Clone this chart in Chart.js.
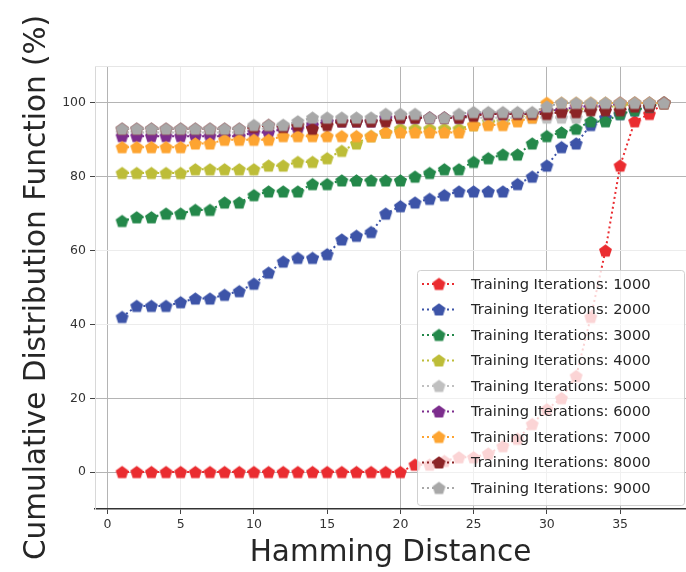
<!DOCTYPE html>
<html>
<head>
<meta charset="utf-8">
<script src="https://cdn.jsdelivr.net/npm/chart.js@4.4.1/dist/chart.umd.min.js"></script>
<style>
  html, body { margin: 0; padding: 0; background: #fff; overflow: hidden; }
  #wrap { width: 686px; height: 572px; }
</style>
</head>
<body>
<div id="wrap"><canvas id="cdfChart" width="686" height="572"></canvas></div>
<script>
// Hamming distance on the x axis
const hamming = [1, 2, 3, 4, 5, 6, 7, 8, 9, 10, 11, 12, 13, 14, 15, 16, 17, 18, 19,
  20, 21, 22, 23, 24, 25, 26, 27, 28, 29, 30, 31, 32, 33, 34, 35, 36, 37, 38];

const iterations = [1000, 2000, 3000, 4000, 5000, 6000, 7000, 8000, 9000];
const seriesColors = ["#ea2c30", "#3d54a8", "#24884a", "#bdbd38", "#c0c0c0",
  "#7c2d8d", "#fda431", "#8b2426", "#a8a8a8"];

// CDF values (%)
const cdf1000 = [0, 0, 0, 0, 0, 0, 0, 0, 0, 0, 0, 0, 0, 0, 0, 0, 0, 0, 0, 0,
  2, 2, 3, 4, 4, 5, 7, 9, 13, 17, 20, 26, 42, 60, 83, 95, 97, 100];
const cdf2000 = [42, 45, 45, 45, 46, 47, 47, 48, 49, 51, 54, 57, 58, 58, 59, 63, 64, 65, 70, 72,
  73, 74, 75, 76, 76, 76, 76, 78, 80, 83, 88, 89, 94, 96, 97, 98, 99, 100];
const cdf3000 = [68, 69, 69, 70, 70, 71, 71, 73, 73, 75, 76, 76, 76, 78, 78, 79, 79, 79, 79, 79,
  80, 81, 82, 82, 84, 85, 86, 86, 89, 91, 92, 93, 95, 95, 97, 98, 99, 100];
const cdf4000 = [81, 81, 81, 81, 81, 82, 82, 82, 82, 82, 83, 83, 84, 84, 85, 87, 89, 91, 92, 93,
  93, 93, 93, 93, 94, 95, 95, 96, 97, 98, 98, 98, 99, 99, 99, 100, 100, 100];
const cdf5000 = [92, 92, 92, 92, 92, 92, 92, 92, 92, 93, 93, 94, 94, 95, 95, 95, 95, 95, 96, 96,
  96, 96, 96, 96, 96, 96, 96, 96, 96, 96, 96, 96, 99, 100, 100, 100, 100, 100];
const cdf6000 = [91, 91, 91, 91, 91, 91, 91, 91, 91, 92, 92, 93, 93, 94, 95, 95, 95, 95, 96, 96,
  96, 96, 96, 96, 97, 97, 97, 97, 97, 98, 98, 99, 99, 99, 100, 100, 100, 100];
const cdf7000 = [88, 88, 88, 88, 88, 89, 89, 90, 90, 90, 90, 91, 91, 91, 91, 91, 91, 91, 92, 92,
  92, 92, 92, 92, 94, 94, 94, 95, 96, 100, 100, 100, 100, 100, 100, 100, 100, 100];
const cdf8000 = [93, 93, 93, 93, 93, 93, 93, 93, 93, 93.5, 94, 93.5, 94, 93, 94, 95, 95, 95, 95, 96,
  96, 96, 96, 96, 96.5, 97, 97, 97, 97, 97, 97.5, 97.5, 98, 98, 98, 99, 99, 100];
const cdf9000 = [93, 93, 93, 93, 93, 93, 93, 93, 93, 94, 94, 94, 95, 96, 96, 96, 96, 96, 97, 97,
  97, 96, 96, 97, 97.5, 97.5, 97.5, 97.5, 97.5, 99, 100, 100, 100, 100, 100, 100, 100, 100];

const cdfSeries = [cdf1000, cdf2000, cdf3000, cdf4000, cdf5000, cdf6000, cdf7000, cdf8000, cdf9000];

const xTicks = [0, 5, 10, 15, 20, 25, 30, 35];
const yTicks = [0, 20, 40, 60, 80, 100];

// grid lines that look darker in the picture
const darkX = [0, 20, 25, 30, 35];
const darkY = [0, 20, 80, 100];

const FONT = "'DejaVu Sans', sans-serif";

// pentagon marker, matplotlib style 'p'
function pentagon(color, r) {
    const size = Math.ceil(r * 2 + 3);
    const c = document.createElement("canvas");
    c.width = size; c.height = size;
    const g = c.getContext("2d");
    g.fillStyle = color;
    g.beginPath();
    for (let k = 0; k < 5; k++) {
        const a = -Math.PI / 2 + k * 2 * Math.PI / 5;
        const px = size / 2 + r * Math.cos(a);
        const py = size / 2 + 0.5 + r * Math.sin(a);
        if (k === 0) g.moveTo(px, py); else g.lineTo(px, py);
    }
    g.closePath();
    g.fill();
    return c;
}

const markers = seriesColors.map(c => pentagon(c, 6.8));

const datasets = iterations.map((it, i) => ({
    label: "Training Iterations: " + it,
    data: hamming.map((h, j) => ({ x: h, y: cdfSeries[i][j] })),
    borderColor: seriesColors[i],
    backgroundColor: seriesColors[i],
    borderWidth: 2,
    borderDash: [2, 3],
    pointStyle: markers[i],
    pointRadius: 6,
    pointHoverRadius: 6,
    tension: 0,
    fill: false,
    order: iterations.length - i
}));

// legend drawn inside the plot, lower right, like matplotlib
const insideLegend = {
    id: "insideLegend",
    afterDraw(chart) {
        const ctx = chart.ctx;
        const area = chart.chartArea;
        const w = 267, h = 235, rowH = 25.5;
        const x0 = area.right - 2 - w;
        const y0 = area.bottom - 4 - h;
        ctx.save();
        ctx.beginPath();
        ctx.roundRect(x0 + 0.5, y0 + 0.5, w, h, 3);
        ctx.fillStyle = "rgba(255,255,255,0.8)";
        ctx.fill();
        ctx.strokeStyle = "rgba(204,204,204,0.9)";
        ctx.lineWidth = 1;
        ctx.stroke();
        chart.data.datasets.forEach((ds, i) => {
            const cy = y0 + 14 + i * rowH;
            ctx.beginPath();
            ctx.setLineDash([2, 3]);
            ctx.strokeStyle = ds.borderColor;
            ctx.lineWidth = 2;
            ctx.moveTo(x0 + 5, cy);
            ctx.lineTo(x0 + 37, cy);
            ctx.stroke();
            ctx.setLineDash([]);
            const m = markers[i];
            ctx.drawImage(m, x0 + 22 - m.width / 2, cy - m.height / 2);
            ctx.fillStyle = "#262626";
            ctx.font = "14.7px " + FONT;
            ctx.textBaseline = "middle";
            ctx.textAlign = "left";
            ctx.fillText(ds.label, x0 + 54, cy + 1);
        });
        ctx.restore();
    }
};

// faint frame on top of the plot area
const topFrame = {
    id: "topFrame",
    beforeDatasetsDraw(chart) {
        const ctx = chart.ctx;
        const a = chart.chartArea;
        ctx.save();
        ctx.strokeStyle = "#e6e6e6";
        ctx.lineWidth = 1;
        ctx.beginPath();
        ctx.moveTo(a.left, a.top + 0.5);
        ctx.lineTo(a.right, a.top + 0.5);
        ctx.stroke();
        ctx.restore();
    }
};

new Chart(document.getElementById("cdfChart"), {
    type: "line",
    data: { datasets: datasets },
    options: {
        responsive: false,
        animation: false,
        events: [],
        layout: { autoPadding: false, padding: { top: 66, right: 0, left: 0, bottom: 0 } },
        plugins: {
            legend: { display: false },
            tooltip: { enabled: false }
        },
        scales: {
            x: {
                type: "linear",
                min: -0.85,
                max: 39.5,
                afterFit: s => { s.height = 63; s.paddingLeft = 0; s.paddingRight = 0; },
                afterBuildTicks: s => { s.ticks = xTicks.map(v => ({ value: v })); },
                ticks: {
                    color: "#333",
                    font: { family: FONT, size: 12.5 },
                    padding: 3,
                    maxRotation: 0
                },
                grid: {
                    color: c => darkX.includes(c.tick && c.tick.value) ? "#b4b4b4" : "#ececec",
                    tickColor: "#444",
                    tickLength: 5,
                    lineWidth: 1
                },
                border: { display: true, color: "#333", width: 1.5 },
                title: {
                    display: true,
                    text: "Hamming Distance",
                    color: "#262626",
                    font: { family: FONT, size: 29.5 },
                    padding: { top: 0, bottom: 1 }
                }
            },
            y: {
                type: "linear",
                min: -10,
                max: 110,
                afterFit: s => { s.width = 95; s.paddingTop = 0; s.paddingBottom = 0; },
                afterBuildTicks: s => { s.ticks = yTicks.map(v => ({ value: v })); },
                ticks: {
                    color: "#333",
                    font: { family: FONT, size: 12.5 },
                    padding: 4
                },
                grid: {
                    color: c => darkY.includes(c.tick && c.tick.value) ? "#b4b4b4" : "#ececec",
                    tickColor: "#444",
                    tickLength: 5,
                    lineWidth: 1
                },
                border: { display: true, color: "#d8d8d8", width: 1 },
                title: {
                    display: true,
                    text: "Cumulative Distribution Function (%)",
                    color: "#262626",
                    font: { family: FONT, size: 29.5 },
                    padding: { top: 20, bottom: 0 }
                }
            }
        }
    },
    plugins: [topFrame, insideLegend]
});
</script>
</body>
</html>
